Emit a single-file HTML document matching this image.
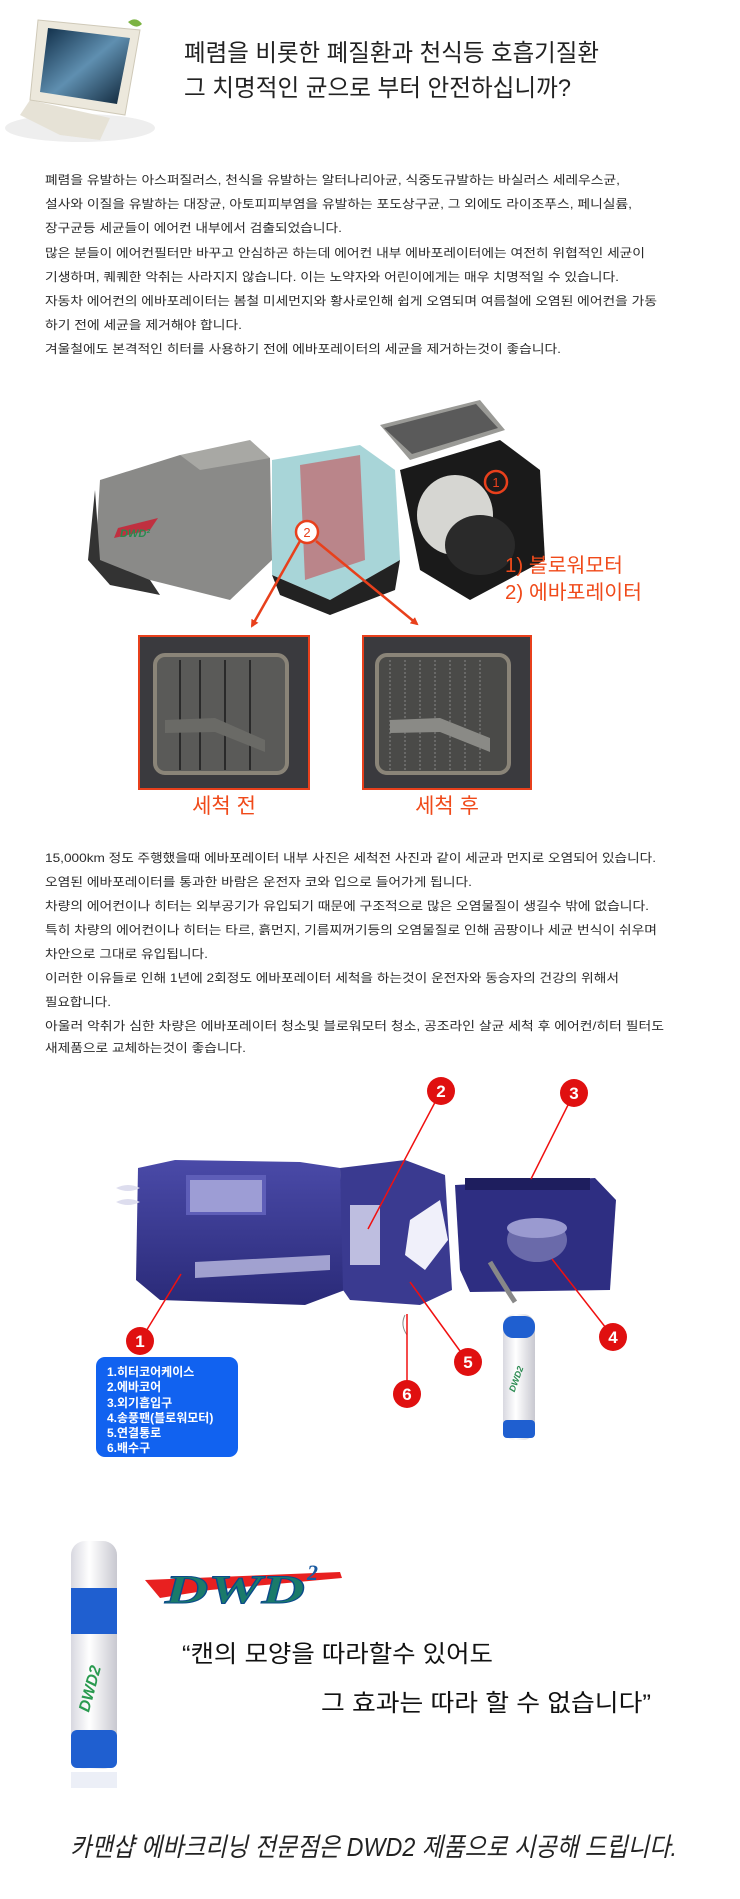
<!DOCTYPE html>
<html><head><meta charset="utf-8"><style>
html,body{margin:0;padding:0;background:#fff;}
svg{display:block;}
.b{font-family:"Liberation Sans","Noto Sans CJK KR",sans-serif;font-size:12px;fill:#2a2a2a;}
</style></head><body>
<svg width="740" height="1899" viewBox="0 0 740 1899" xmlns="http://www.w3.org/2000/svg">
<defs>
<linearGradient id="scr" x1="0" y1="0" x2="1" y2="1"><stop offset="0" stop-color="#0d2a44"/><stop offset=".5" stop-color="#5f8fb0"/><stop offset="1" stop-color="#0b2033"/></linearGradient>
<linearGradient id="pur" x1="0" y1="0" x2="0" y2="1"><stop offset="0" stop-color="#4a4aa8"/><stop offset="1" stop-color="#2a2a78"/></linearGradient>
<linearGradient id="can" x1="0" y1="0" x2="1" y2="0"><stop offset="0" stop-color="#d8d8e0"/><stop offset=".4" stop-color="#fff"/><stop offset="1" stop-color="#c8c8d0"/></linearGradient>
<marker id="ar" markerWidth="8" markerHeight="8" refX="6" refY="4" orient="auto" markerUnits="userSpaceOnUse"><path d="M0,0 L8,4 L0,8 z" fill="#e8401c"/></marker>
</defs>

<!-- monitor -->
<g>
<ellipse cx="80" cy="128" rx="75" ry="14" fill="#eee"/>
<path d="M30,100 L110,118 L100,140 L60,135 L20,115 Z" fill="#e6e2d6"/>
<path d="M38,20 L140,30 L125,115 L30,100 Z" fill="#ece8dc" stroke="#cfc9b8"/>
<path d="M48,28 L130,38 L117,104 L40,92 Z" fill="url(#scr)"/>
<path d="M128,22 q8,-6 14,2 q-6,6 -14,-2z" fill="#7cb342"/>
</g>

<!-- title -->
<g font-family="Liberation Sans,Noto Sans CJK KR,sans-serif" font-size="24" fill="#222">
<text x="184" y="61" textLength="415" lengthAdjust="spacingAndGlyphs">폐렴을 비롯한 폐질환과 천식등 호흡기질환</text>
<text x="184" y="96" textLength="387" lengthAdjust="spacingAndGlyphs">그 치명적인 균으로 부터 안전하십니까?</text>
</g>

<!-- body 1 -->
<g class="b">
<text class="b" x="45" y="184" textLength="575" lengthAdjust="spacingAndGlyphs">폐렴을 유발하는 아스퍼질러스, 천식을 유발하는 알터나리아균, 식중도규발하는 바실러스 세레우스균,</text>
<text class="b" x="45" y="208" textLength="587" lengthAdjust="spacingAndGlyphs">설사와 이질을 유발하는 대장균, 아토피피부염을 유발하는 포도상구균, 그 외에도 라이조푸스, 페니실륨,</text>
<text class="b" x="45" y="232" textLength="297" lengthAdjust="spacingAndGlyphs">장구균등 세균들이 에어컨 내부에서 검출되었습니다.</text>
<text class="b" x="45" y="257" textLength="600" lengthAdjust="spacingAndGlyphs">많은 분들이 에어컨필터만 바꾸고 안심하곤 하는데 에어컨 내부 에바포레이터에는 여전히 위협적인 세균이</text>
<text class="b" x="45" y="281" textLength="574" lengthAdjust="spacingAndGlyphs">기생하며, 퀘퀘한 악취는 사라지지 않습니다. 이는 노약자와 어린이에게는 매우 치명적일 수 있습니다.</text>
<text class="b" x="45" y="305" textLength="612" lengthAdjust="spacingAndGlyphs">자동차 에어컨의 에바포레이터는 봄철 미세먼지와 황사로인해 쉽게 오염되며 여름철에 오염된 에어컨을 가동</text>
<text class="b" x="45" y="329" textLength="197" lengthAdjust="spacingAndGlyphs">하기 전에 세균을 제거해야 합니다.</text>
<text class="b" x="45" y="353" textLength="516" lengthAdjust="spacingAndGlyphs">겨울철에도 본격적인 히터를 사용하기 전에 에바포레이터의 세균을 제거하는것이 좋습니다.</text>
</g>

<!-- car AC unit -->
<g>
<path d="M100,480 L180,455 L270,458 L272,560 L230,600 L150,580 L95,560 Z" fill="#8a8a88"/>
<path d="M95,490 L100,560 L150,580 L160,595 L110,585 L88,560 Z" fill="#333"/>
<path d="M180,455 L250,440 L270,458 L200,470 Z" fill="#a8a8a4"/>
<path d="M118,528 l40,-10 l-8,12 l-36,8z" fill="#c03040"/>
<text x="120" y="537" font-family="Liberation Sans,sans-serif" font-style="italic" font-weight="bold" font-size="11" fill="#2a8a50">DWD²</text>
<path d="M272,460 L360,445 L395,470 L400,560 L330,600 L272,575 Z" fill="#9fd0d4" opacity=".9"/>
<path d="M300,465 L360,455 L365,560 L305,580 Z" fill="#c06a70" opacity=".75"/>
<path d="M272,575 L330,600 L400,560 L395,590 L330,615 L280,595 Z" fill="#222"/>
<path d="M380,425 L480,400 L505,430 L410,460 Z" fill="#9a9a96"/>
<path d="M384,428 L476,404 L498,428 L412,454Z" fill="#5a5a5a"/>
<path d="M400,470 L500,440 L540,470 L545,560 L470,600 L420,570 Z" fill="#1a1a1a"/>
<ellipse cx="455" cy="515" rx="38" ry="40" fill="#d6d6d2"/>
<ellipse cx="480" cy="545" rx="35" ry="30" fill="#2a2a2a"/>
<circle cx="496" cy="482" r="11" fill="none" stroke="#e8401c" stroke-width="2.5"/>
<text x="496" y="487" text-anchor="middle" font-family="Liberation Sans,sans-serif" font-size="13" fill="#e8401c">1</text>
<line x1="300" y1="541" x2="252" y2="626" stroke="#e8401c" stroke-width="2.5" marker-end="url(#ar)"/>
<line x1="316" y1="541" x2="417" y2="624" stroke="#e8401c" stroke-width="2.5" marker-end="url(#ar)"/>
<circle cx="307" cy="532" r="11" fill="#fff" stroke="#e8401c" stroke-width="2.5"/>
<text x="307" y="537" text-anchor="middle" font-family="Liberation Sans,sans-serif" font-size="13" fill="#e8401c">2</text>
</g>
<g font-family="Liberation Sans,Noto Sans CJK KR,sans-serif" font-size="20" fill="#f04a1a">
<text x="505" y="572" textLength="118" lengthAdjust="spacingAndGlyphs">1) 블로워모터</text>
<text x="505" y="599" textLength="137" lengthAdjust="spacingAndGlyphs">2) 에바포레이터</text>
</g>

<!-- photos -->
<g>
<rect x="139" y="636" width="170" height="153" fill="#3a3a3e" stroke="#e8401c" stroke-width="2"/>
<rect x="155" y="655" width="132" height="118" rx="10" fill="#5a5a58" stroke="#8a8478" stroke-width="4"/>
<g stroke="#2a2a2a" stroke-width="2"><line x1="180" y1="660" x2="180" y2="770"/><line x1="200" y1="660" x2="200" y2="770"/><line x1="225" y1="660" x2="225" y2="770"/><line x1="250" y1="660" x2="250" y2="770"/></g>
<path d="M165,720 L215,718 L265,740 L265,752 L215,732 L165,733Z" fill="#6a6a66"/>
<rect x="363" y="636" width="168" height="153" fill="#3a3a3e" stroke="#e8401c" stroke-width="2"/>
<rect x="377" y="655" width="132" height="118" rx="10" fill="#4a4a48" stroke="#8a8478" stroke-width="4"/>
<g stroke="#888" stroke-width="1" stroke-dasharray="2 2"><line x1="390" y1="660" x2="390" y2="770"/><line x1="405" y1="660" x2="405" y2="770"/><line x1="420" y1="660" x2="420" y2="770"/><line x1="435" y1="660" x2="435" y2="770"/><line x1="450" y1="660" x2="450" y2="770"/><line x1="465" y1="660" x2="465" y2="770"/><line x1="480" y1="660" x2="480" y2="770"/></g>
<path d="M390,720 L440,718 L490,738 L490,752 L440,732 L390,733Z" fill="#8a8a86"/>
</g>
<g font-family="Liberation Sans,Noto Sans CJK KR,sans-serif" font-size="21" fill="#f04a1a" text-anchor="middle">
<text x="224" y="813">세척 전</text>
<text x="447" y="813">세척 후</text>
</g>

<!-- body 2 -->
<g>
<text class="b" x="45" y="862" textLength="611" lengthAdjust="spacingAndGlyphs">15,000km 정도 주행했을때 에바포레이터 내부 사진은 세척전 사진과 같이 세균과 먼지로 오염되어 있습니다.</text>
<text class="b" x="45" y="886" textLength="427" lengthAdjust="spacingAndGlyphs">오염된 에바포레이터를 통과한 바람은 운전자 코와 입으로 들어가게 됩니다.</text>
<text class="b" x="45" y="910" textLength="604" lengthAdjust="spacingAndGlyphs">차량의 에어컨이나 히터는 외부공기가 유입되기 때문에 구조적으로 많은 오염물질이 생길수 밖에 없습니다.</text>
<text class="b" x="45" y="934" textLength="612" lengthAdjust="spacingAndGlyphs">특히 차량의 에어컨이나 히터는 타르, 흙먼지, 기름찌꺼기등의 오염물질로 인해 곰팡이나 세균 번식이 쉬우며</text>
<text class="b" x="45" y="958" textLength="163" lengthAdjust="spacingAndGlyphs">차안으로 그대로 유입됩니다.</text>
<text class="b" x="45" y="982" textLength="574" lengthAdjust="spacingAndGlyphs">이러한 이유들로 인해 1년에 2회정도 에바포레이터 세척을 하는것이 운전자와 동승자의 건강의 위해서</text>
<text class="b" x="45" y="1006" textLength="66" lengthAdjust="spacingAndGlyphs">필요합니다.</text>
<text class="b" x="45" y="1030" textLength="619" lengthAdjust="spacingAndGlyphs">아울러 악취가 심한 차량은 에바포레이터 청소및 블로워모터 청소, 공조라인 살균 세척 후 에어컨/히터 필터도</text>
<text class="b" x="45" y="1052" textLength="201" lengthAdjust="spacingAndGlyphs">새제품으로 교체하는것이 좋습니다.</text>
</g>

<!-- purple unit -->
<g>
<path d="M138,1168 L175,1160 L300,1162 L340,1168 L345,1290 L305,1305 L160,1300 L136,1280 Z" fill="url(#pur)"/>
<rect x="186" y="1175" width="80" height="40" fill="#5e5eb8"/>
<path d="M190,1180 L262,1180 L262,1212 L190,1212Z" fill="#c8c8e8" opacity=".6"/>
<path d="M195,1262 L330,1255 L330,1270 L195,1278Z" fill="#d0d0f0" opacity=".7"/>
<path d="M116,1188 q12,-6 24,0 q-12,6 -24,0z M116,1202 q12,-6 24,0 q-12,6 -24,0z" fill="#dde"/>
<path d="M340,1168 L405,1160 L445,1175 L452,1290 L420,1305 L350,1300 L343,1290 Z" fill="#3a3a90"/>
<path d="M350,1205 L380,1205 L380,1265 L350,1265Z" fill="#e0e0f4" opacity=".8"/>
<path d="M410,1220 L440,1200 L448,1240 L425,1270 L405,1255Z" fill="#f0f0fa"/>
<path d="M455,1185 L595,1178 L616,1200 L610,1290 L470,1292 L460,1270Z" fill="#2e2e82"/>
<rect x="465" y="1178" width="125" height="12" fill="#1e1e5e"/>
<ellipse cx="537" cy="1240" rx="30" ry="22" fill="#6a6aaa"/>
<ellipse cx="537" cy="1228" rx="30" ry="10" fill="#9a9ad0"/>
<path d="M490,1262 q15,25 25,40" stroke="#888" stroke-width="5" fill="none"/>
<path d="M405,1315 q-5,10 2,20" stroke="#888" fill="none"/>
<rect x="503" y="1314" width="32" height="126" rx="12" fill="url(#can)"/>
<rect x="503" y="1316" width="32" height="22" rx="10" fill="#1f5fd0"/>
<rect x="503" y="1420" width="32" height="18" rx="4" fill="#1f5fd0"/>
<text x="519" y="1380" text-anchor="middle" font-family="Liberation Sans,sans-serif" font-style="italic" font-weight="bold" font-size="9" fill="#2a8a50" transform="rotate(-70 519 1380)">DWD2</text>
</g>
<g stroke="#f01010" stroke-width="1.5">
<line x1="441" y1="1091" x2="368" y2="1229"/>
<line x1="574" y1="1093" x2="531" y2="1179"/>
<line x1="140" y1="1341" x2="181" y2="1274"/>
<line x1="613" y1="1337" x2="552" y2="1259"/>
<line x1="468" y1="1362" x2="410" y2="1282"/>
<line x1="407" y1="1394" x2="407" y2="1314"/>
</g>
<g font-family="Liberation Sans,sans-serif" font-weight="bold" font-size="17" fill="#fff" text-anchor="middle">
<circle cx="441" cy="1091" r="14" fill="#e01010"/><text x="441" y="1097">2</text>
<circle cx="574" cy="1093" r="14" fill="#e01010"/><text x="574" y="1099">3</text>
<circle cx="140" cy="1341" r="14" fill="#e01010"/><text x="140" y="1347">1</text>
<circle cx="613" cy="1337" r="14" fill="#e01010"/><text x="613" y="1343">4</text>
<circle cx="468" cy="1362" r="14" fill="#e01010"/><text x="468" y="1368">5</text>
<circle cx="407" cy="1394" r="14" fill="#e01010"/><text x="407" y="1400">6</text>
</g>
<rect x="96" y="1357" width="142" height="100" rx="9" fill="#1162f0"/>
<g font-family="Liberation Sans,Noto Sans CJK KR,sans-serif" font-weight="bold" font-size="12" fill="#fff">
<text x="107" y="1376">1.히터코어케이스</text>
<text x="107" y="1391">2.에바코어</text>
<text x="107" y="1407">3.외기흡입구</text>
<text x="107" y="1422">4.송풍팬(블로워모터)</text>
<text x="107" y="1437">5.연결통로</text>
<text x="107" y="1452">6.배수구</text>
</g>

<!-- big can -->
<g>
<rect x="71" y="1541" width="46" height="228" rx="14" fill="url(#can)"/>
<rect x="71" y="1588" width="46" height="46" fill="#1f5fd0"/>
<rect x="71" y="1730" width="46" height="38" rx="6" fill="#1f5fd0"/>
<rect x="71" y="1772" width="46" height="16" fill="#e4e8f4" opacity=".7"/>
<text x="95" y="1690" text-anchor="middle" font-family="Liberation Sans,sans-serif" font-style="italic" font-weight="bold" font-size="16" fill="#2a9a50" transform="rotate(-75 95 1690)">DWD2</text>
</g>
<!-- logo -->
<path d="M145,1580 L340,1572 L342,1578 L210,1590 L160,1598 Z" fill="#e82020"/>
<text x="165" y="1603" font-family="Liberation Serif,serif" font-style="italic" font-weight="bold" font-size="40" fill="#1a7a6a" stroke="#0a4a8a" stroke-width="1" textLength="140" lengthAdjust="spacingAndGlyphs">DWD</text>
<text x="307" y="1580" font-family="Liberation Serif,serif" font-style="italic" font-weight="bold" font-size="22" fill="#1a5aa0">2</text>

<!-- quote -->
<g font-family="Liberation Sans,Noto Sans CJK KR,sans-serif" font-size="24" fill="#111">
<text x="182" y="1662" textLength="311" lengthAdjust="spacingAndGlyphs">“캔의 모양을 따라할수 있어도</text>
<text x="321" y="1711" textLength="330" lengthAdjust="spacingAndGlyphs">그 효과는 따라 할 수 없습니다”</text>
</g>
<text x="70" y="1856" font-family="Liberation Sans,Noto Sans CJK KR,sans-serif" font-style="italic" font-size="26" fill="#222" textLength="607" lengthAdjust="spacingAndGlyphs">카맨샵 에바크리닝 전문점은 DWD2 제품으로 시공해 드립니다.</text>
</svg>
</body></html>
